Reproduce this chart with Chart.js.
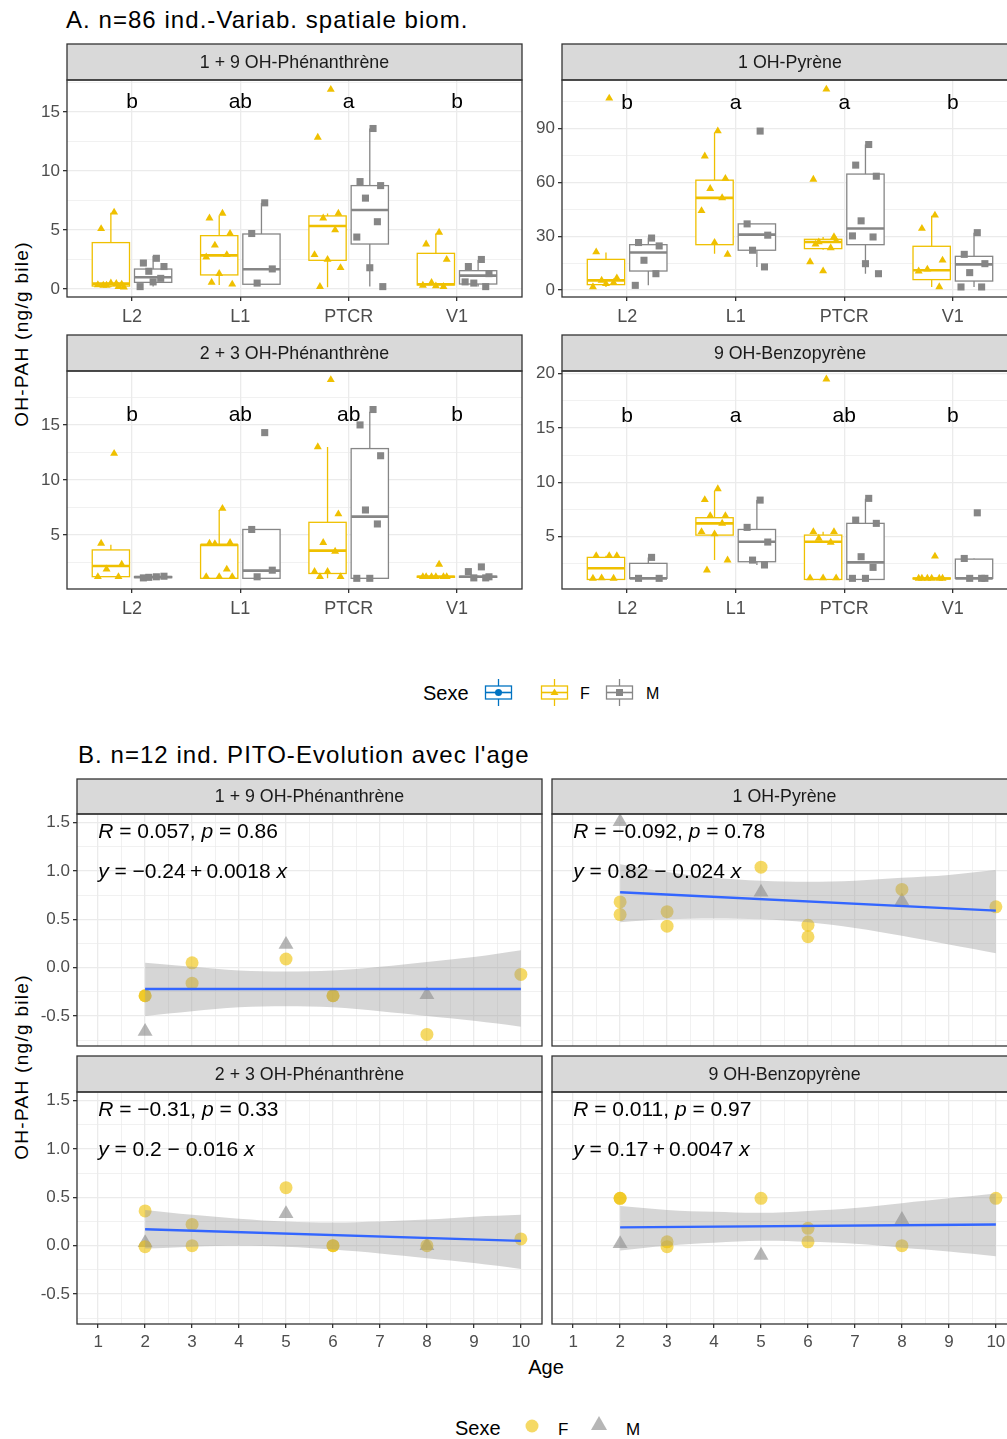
<!DOCTYPE html>
<html lang="fr">
<head>
<meta charset="utf-8">
<title>OH-PAH</title>
<script src="https://cdn.jsdelivr.net/npm/chart.js@4.4.1/dist/chart.umd.min.js"></script>
<style>
  html, body { margin: 0; padding: 0; width: 1007px; height: 1439px; overflow: hidden; background: #fff; }
  body { position: relative; font-family: "Liberation Sans", Arial, sans-serif; color: #000; }
  .t { position: absolute; white-space: nowrap; line-height: 1; }
  .mid { transform: translateY(-50%); }
  .ctr { transform: translate(-50%, -50%); }
  .rot { transform: translate(-50%, -50%) rotate(-90deg); }
  canvas, svg { position: absolute; }
</style>
</head>
<body>

<div class="t mid" style="left:66px;top:20px;font-size:24px;letter-spacing:1.05px">A. n=86 ind.-Variab. spatiale biom.</div>
<div class="t rot" style="left:21px;top:334px;font-size:19px;letter-spacing:1.3px">OH-PAH (ng/g bile)</div>

<div class="t mid" style="left:423px;top:693px;font-size:20px">Sexe</div>
<svg style="left:484px;top:678px" width="30" height="30">
  <g stroke="#0073C2" stroke-width="1.3" fill="none">
    <line x1="14.5" y1="1" x2="14.5" y2="8"/><line x1="14.5" y1="21" x2="14.5" y2="28"/>
    <rect x="1.5" y="8" width="26" height="13" fill="#fff"/><line x1="1.5" y1="14.5" x2="27.5" y2="14.5" stroke-width="1.6"/>
  </g>
  <circle cx="14.5" cy="14.5" r="3.5" fill="#0073C2"/>
</svg>
<svg style="left:540px;top:678px" width="30" height="30">
  <g stroke="#EFC000" stroke-width="1.3" fill="none">
    <line x1="14.5" y1="1" x2="14.5" y2="8"/><line x1="14.5" y1="21" x2="14.5" y2="28"/>
    <rect x="1.5" y="8" width="26" height="13" fill="#fff"/><line x1="1.5" y1="14.5" x2="27.5" y2="14.5" stroke-width="1.6"/>
  </g>
  <polygon points="14.5,10.5 18.5,17 10.5,17" fill="#EFC000"/>
</svg>
<div class="t mid" style="left:580px;top:694px;font-size:16px">F</div>
<svg style="left:605px;top:678px" width="30" height="30">
  <g stroke="#868686" stroke-width="1.3" fill="none">
    <line x1="14.5" y1="1" x2="14.5" y2="8"/><line x1="14.5" y1="21" x2="14.5" y2="28"/>
    <rect x="1.5" y="8" width="26" height="13" fill="#fff"/><line x1="1.5" y1="14.5" x2="27.5" y2="14.5" stroke-width="1.6"/>
  </g>
  <rect x="11" y="11" width="7" height="7" fill="#868686"/>
</svg>
<div class="t mid" style="left:646px;top:694px;font-size:16px">M</div>

<div class="t mid" style="left:78px;top:755px;font-size:24px;letter-spacing:1.05px">B. n=12 ind. PITO-Evolution avec l'age</div>
<div class="t rot" style="left:21px;top:1067px;font-size:19px;letter-spacing:1.3px">OH-PAH (ng/g bile)</div>
<div class="t ctr" style="left:546px;top:1367px;font-size:20px">Age</div>

<div class="t mid" style="left:455px;top:1428px;font-size:20px">Sexe</div>
<svg style="left:522px;top:1416px" width="20" height="20">
  <circle cx="10" cy="10" r="6.5" fill="rgba(239,192,0,0.6)"/>
</svg>
<div class="t mid" style="left:558px;top:1429px;font-size:17px">F</div>
<svg style="left:588px;top:1414px" width="22" height="22">
  <polygon points="11,2 19,16 3,16" fill="rgba(134,134,134,0.6)"/>
</svg>
<div class="t mid" style="left:626px;top:1429px;font-size:17px">M</div>

<script>
'use strict';

// ------------------------------------------------------- //
// Data
// ------------------------------------------------------ //
var sites = ['L2', 'L1', 'PTCR', 'V1'];
var compounds = ['1 + 9 OH-Phénanthrène', '1 OH-Pyrène', '2 + 3 OH-Phénanthrène', '9 OH-Benzopyrène'];
var sigLetters = [['b', 'ab', 'a', 'b'], ['b', 'a', 'a', 'b'], ['b', 'ab', 'ab', 'b'], ['b', 'a', 'ab', 'b']];

// box stats per site: [whisker low, Q1, median, Q3, whisker high]
var phe19BoxF = [[0.15, 0.25, 0.45, 3.93, 6.47], [0.34, 1.19, 2.85, 4.52, 6.2], [0.14, 2.43, 5.34, 6.19, 6.4], [0.2, 0.34, 0.4, 3.02, 4.7]];
var phe19BoxM = [[0.2, 0.56, 0.99, 1.69, 2.8], [0.4, 0.4, 1.67, 4.66, 7.3], [0.2, 3.81, 6.69, 8.76, 13.6], [0.2, 0.42, 1.13, 1.55, 2.46]];
var phe19PtsF = [[6.5, 5.1, 0.4, 0.3, 0.2, 0.35, 0.5, 0.15, 0.3, 0.45], [6.4, 6.0, 4.7, 3.7, 2.9, 2.7, 1.3, 0.4, 0.56], [16.9, 12.85, 6.4, 6.0, 5.0, 2.9, 2.5, 1.8, 0.2], [4.8, 3.8, 2.5, 0.54, 0.2, 0.3, 0.25]];
var phe19PtsM = [[2.6, 2.2, 1.9, 1.5, 0.9, 0.2, 0.6], [7.3, 4.7, 1.7, 0.5], [13.6, 9.1, 8.76, 7.7, 5.7, 4.4, 1.8, 0.2], [2.5, 1.9, 1.3, 0.5, 0.2, 0.6]];

var pyrBoxF = [[1.7, 3.0, 5.4, 17.1, 20.9], [20.3, 25.3, 51.4, 61.3, 87.8], [22.5, 23.1, 26.8, 28.3, 29.6], [1.7, 5.8, 11.0, 24.4, 41.4]];
var pyrBoxM = [[2.6, 10.6, 20.9, 25.3, 29.3], [12.9, 22.2, 30.9, 36.9, 36.9], [9.1, 25.3, 34.3, 64.7, 81.2], [1.7, 5.0, 14.3, 18.8, 32]];
var pyrPtsF = [[107, 21.2, 6.7, 5.4, 4.1, 1.7, 3.5], [88.7, 74.7, 62.2, 56.6, 51.4, 44.2, 26.5, 19.9], [112, 61.7, 29.6, 26.8, 23.5, 15.7, 10.6, 27.5, 25.5], [41.7, 34.3, 16.6, 11.6, 1.7, 10.5]];
var pyrPtsM = [[29, 26.5, 24.6, 16.6, 9.1, 2.6], [88.7, 36.9, 30.6, 22.2, 12.9], [81.2, 69.7, 63.5, 38.6, 29.6, 30.2, 14.7, 9.1], [32, 19.9, 14.7, 9.7, 1.7, 1.7]];

var phe23BoxF = [[1.2, 1.21, 2.18, 3.64, 4.1], [1.06, 1.06, 4.1, 4.1, 7.27], [1.06, 1.5, 3.58, 6.15, 13.0], [1.1, 1.15, 1.2, 1.25, 1.3]];
var phe23BoxM = [[1.1, 1.12, 1.18, 1.22, 1.25], [1.06, 1.06, 1.76, 5.5, 5.5], [1.06, 1.06, 6.67, 12.85, 16.2], [1.1, 1.15, 1.2, 1.25, 1.3]];
var phe23PtsF = [[12.4, 4.24, 2.33, 1.9, 1.2, 1.2], [7.4, 4.24, 4.3, 4.2, 1.88, 1.2, 1.2, 1.2], [19.1, 13.0, 6.9, 4.3, 3.5, 1.67, 1.67, 1.2, 1.2], [2.33, 1.2, 1.2, 1.2, 1.2, 1.2, 1.2]];
var phe23PtsM = [[1.2, 1.1, 1.25, 1.15], [14.3, 5.5, 1.8, 1.2], [16.4, 15.0, 12.2, 7.27, 6.0, 1.06, 1.06], [2.1, 1.67, 1.2, 1.1, 1.1]];

var bapBoxF = [[1.07, 1.07, 2.1, 3.1, 3.25], [2.85, 5.15, 6.23, 6.75, 9.2], [1.07, 1.07, 4.54, 5.15, 5.46], [1.1, 1.12, 1.15, 1.2, 1.25]];
var bapBoxM = [[1.17, 1.17, 1.17, 2.55, 3.1], [2.4, 2.7, 4.54, 5.67, 8.37], [1.07, 1.07, 2.64, 6.23, 8.5], [1.17, 1.17, 1.17, 2.94, 3.0]];
var bapPtsF = [[3.25, 3.25, 3.25, 1.2, 1.17, 1.17], [9.4, 8.4, 6.93, 6.93, 6.23, 5.46, 5.25, 2.85, 1.93], [19.5, 5.46, 5.46, 4.85, 4.48, 1.2, 1.2, 1.2], [3.2, 1.17, 1.17, 1.17, 1.17, 1.17, 1.17]];
var bapPtsM = [[3.1, 1.17, 1.17], [8.37, 5.86, 4.51, 2.85, 2.4], [8.53, 6.53, 6.23, 3.16, 2.18, 1.17, 1.17], [7.2, 3.0, 1.17, 1.17, 1.17]];

// part B: individuals followed with age
var agesF = [2, 2, 3, 3, 5, 6, 6, 8, 10];
var agesM = [2, 5, 8];
var phe19AgeF = [-0.29, -0.29, 0.05, -0.16, 0.09, -0.29, -0.29, -0.69, -0.07];
var phe19AgeM = [-0.66, 0.24, -0.28];
var pyrAgeF = [0.68, 0.55, 0.58, 0.43, 1.04, 0.44, 0.32, 0.81, 0.63];
var pyrAgeM = [1.51, 0.78, 0.69];
var phe23AgeF = [0.36, -0.01, 0.22, 0.0, 0.6, 0.0, 0.0, 0.0, 0.07];
var phe23AgeM = [0.03, 0.33, 0.0];
var bapAgeF = [0.49, 0.49, 0.04, -0.01, 0.49, 0.18, 0.04, 0.0, 0.49];
var bapAgeM = [0.02, -0.10, 0.27];

var fitAges = [2, 10];
var phe19Fit = [-0.22, -0.22];
var pyrFit = [0.78, 0.59];
var phe23Fit = [0.17, 0.05];
var bapFit = [0.19, 0.22];

var bandAges = [2, 3, 4, 5, 6, 7, 8, 9, 10];
var phe19Up = [0.05, 0.01, -0.03, -0.04, -0.03, 0.01, 0.06, 0.11, 0.18];
var phe19Lo = [-0.50, -0.45, -0.41, -0.40, -0.41, -0.45, -0.50, -0.55, -0.61];
var pyrUp = [1.07, 0.99, 0.93, 0.90, 0.89, 0.90, 0.93, 0.96, 1.01];
var pyrLo = [0.47, 0.50, 0.51, 0.50, 0.47, 0.41, 0.33, 0.24, 0.15];
var phe23Up = [0.37, 0.32, 0.28, 0.25, 0.24, 0.25, 0.27, 0.30, 0.32];
var phe23Lo = [-0.03, -0.01, 0.00, -0.01, -0.04, -0.08, -0.13, -0.18, -0.24];
var bapUp = [0.41, 0.37, 0.35, 0.34, 0.36, 0.39, 0.44, 0.49, 0.54];
var bapLo = [-0.05, 0.00, 0.03, 0.05, 0.04, 0.02, -0.02, -0.06, -0.11];

var corR = ['0.057', '\u22120.092', '\u22120.31', '0.011'];
var corP = ['0.86', '0.78', '0.33', '0.97'];
var fitEq = ['\u22120.24\u2009+\u20090.0018', '0.82 \u2212 0.024', '0.2 \u2212 0.016', '0.17\u2009+\u20090.0047'];

// ------------------------------------------------------- //
// Styles
// ------------------------------------------------------ //
var FONT = '"Liberation Sans", Arial, sans-serif';
var colF = '#EFC000';
var colM = '#868686';
var DODGE = 0.195;
var BOX_HALF = 0.172;
var jit = [0.03, -0.09, 0.1, -0.04, 0.07, -0.12, 0.0, 0.12, -0.07, 0.05, -0.02];

Chart.defaults.font.family = FONT;

function mount(g) {
    var c = document.createElement('canvas');
    var W = g.yW + g.w + 2, H = 2 + g.sH + g.h + g.xH;
    c.width = W;
    c.height = H;
    c.style.left = (g.left - g.yW) + 'px';
    c.style.top = (g.top - g.sH - 2) + 'px';
    c.style.width = W + 'px';
    c.style.height = H + 'px';
    document.body.appendChild(c);
    return c;
}

function noPad(s) {
    s.paddingTop = 0; s.paddingBottom = 0; s.paddingLeft = 0; s.paddingRight = 0;
}

function valueScale(min, max, major, minor, show, yW, fmt) {
    var all = major.concat(minor).filter(function (v) { return v >= min && v <= max; });
    var isMajor = function (c) { return c.tick && major.indexOf(c.tick.value) >= 0; };
    return {
        type: 'linear', min: min, max: max,
        afterBuildTicks: function (s) { s.ticks = all.map(function (v) { return { value: v }; }); },
        afterFit: function (s) { s.width = yW; noPad(s); },
        ticks: {
            display: show, autoSkip: false, color: '#4D4D4D', font: { size: 17 }, padding: 3,
            callback: function (v) { return major.indexOf(v) >= 0 ? fmt(v) : ''; }
        },
        grid: {
            color: '#EBEBEB', lineWidth: function (c) { return isMajor(c) ? 1.3 : 0.7; },
            drawTicks: show, tickLength: 4,
            tickColor: function (c) { return isMajor(c) ? '#333333' : 'rgba(0,0,0,0)'; }
        },
        border: { display: false }
    };
}

function siteScale(xH) {
    return {
        type: 'linear', min: 0.4, max: 4.6,
        afterBuildTicks: function (s) { s.ticks = sites.map(function (_, i) { return { value: i + 1 }; }); },
        afterFit: function (s) { s.height = xH; noPad(s); },
        ticks: {
            autoSkip: false, maxRotation: 0, minRotation: 0, color: '#4D4D4D', font: { size: 18 }, padding: 5,
            callback: function (v) { return sites[v - 1]; }
        },
        grid: { color: '#EBEBEB', lineWidth: 1.3, tickLength: 4, tickColor: '#333333' },
        border: { display: false }
    };
}

function ageScale(show, xH) {
    var major = [1, 2, 3, 4, 5, 6, 7, 8, 9, 10];
    var minor = [1.5, 2.5, 3.5, 4.5, 5.5, 6.5, 7.5, 8.5, 9.5];
    var isMajor = function (c) { return c.tick && major.indexOf(c.tick.value) >= 0; };
    return {
        type: 'linear', min: 0.55, max: 10.45,
        afterBuildTicks: function (s) { s.ticks = major.concat(minor).map(function (v) { return { value: v }; }); },
        afterFit: function (s) { s.height = xH; noPad(s); },
        ticks: {
            display: show, autoSkip: false, maxRotation: 0, minRotation: 0, color: '#4D4D4D', font: { size: 17 }, padding: 4,
            callback: function (v) { return major.indexOf(v) >= 0 ? String(v) : ''; }
        },
        grid: {
            color: '#EBEBEB', lineWidth: function (c) { return isMajor(c) ? 1.3 : 0.7; },
            drawTicks: show, tickLength: 4,
            tickColor: function (c) { return isMajor(c) ? '#333333' : 'rgba(0,0,0,0)'; }
        },
        border: { display: false }
    };
}

// strip header + panel frame
function stripPlugin(text, sH) {
    return {
        id: 'strip',
        afterDraw: function (chart) {
            var ctx = chart.ctx, a = chart.chartArea, w = a.right - a.left;
            ctx.save();
            ctx.fillStyle = '#D9D9D9';
            ctx.fillRect(a.left, a.top - sH, w, sH);
            ctx.strokeStyle = '#333333';
            ctx.lineWidth = 1.3;
            ctx.strokeRect(a.left, a.top - sH, w, sH);
            ctx.strokeRect(a.left, a.top, w, a.bottom - a.top);
            ctx.fillStyle = '#1A1A1A';
            ctx.font = '17.8px ' + FONT;
            ctx.textAlign = 'center';
            ctx.textBaseline = 'middle';
            ctx.fillText(text, a.left + w / 2, a.top - sH / 2 + 1);
            ctx.restore();
        }
    };
}

// box + whiskers + median, drawn under the jittered points
function boxPlugin(groups) {
    return {
        id: 'boxes',
        beforeDatasetsDraw: function (chart) {
            var ctx = chart.ctx, xs = chart.scales.x, ys = chart.scales.y;
            ctx.save();
            groups.forEach(function (g) {
                g.stats.forEach(function (s, i) {
                    var c = i + 1 + g.dx;
                    var x0 = xs.getPixelForValue(c - BOX_HALF), x1 = xs.getPixelForValue(c + BOX_HALF);
                    var xc = xs.getPixelForValue(c);
                    var p = s.map(function (v) { return ys.getPixelForValue(v); });
                    ctx.strokeStyle = g.color;
                    ctx.lineWidth = 1.3;
                    ctx.beginPath();
                    ctx.moveTo(xc, p[3]); ctx.lineTo(xc, p[4]);
                    ctx.moveTo(xc, p[1]); ctx.lineTo(xc, p[0]);
                    ctx.stroke();
                    ctx.fillStyle = '#fff';
                    ctx.fillRect(x0, p[3], x1 - x0, p[1] - p[3]);
                    ctx.strokeRect(x0, p[3], x1 - x0, p[1] - p[3]);
                    ctx.lineWidth = 2.6;
                    ctx.beginPath();
                    ctx.moveTo(x0, p[2]); ctx.lineTo(x1, p[2]);
                    ctx.stroke();
                });
            });
            ctx.restore();
        }
    };
}

function letterPlugin(letters, yv) {
    return {
        id: 'letters',
        afterDatasetsDraw: function (chart) {
            var ctx = chart.ctx, xs = chart.scales.x, ys = chart.scales.y;
            ctx.save();
            ctx.fillStyle = '#000';
            ctx.font = '21px ' + FONT;
            ctx.textAlign = 'center';
            ctx.textBaseline = 'middle';
            letters.forEach(function (l, i) {
                ctx.fillText(l, xs.getPixelForValue(i + 1), ys.getPixelForValue(yv));
            });
            ctx.restore();
        }
    };
}

function mathText(ctx, x, y, parts) {
    parts.forEach(function (p) {
        ctx.font = (p[1] ? 'italic ' : '') + '21px ' + FONT;
        ctx.fillText(p[0], x, y);
        x += ctx.measureText(p[0]).width;
    });
}

function statPlugin(r, p, eq) {
    return {
        id: 'stats',
        afterDatasetsDraw: function (chart) {
            var ctx = chart.ctx, xs = chart.scales.x, ys = chart.scales.y;
            var x = xs.getPixelForValue(1);
            ctx.save();
            ctx.fillStyle = '#000';
            ctx.textAlign = 'left';
            ctx.textBaseline = 'middle';
            mathText(ctx, x, ys.getPixelForValue(1.40), [['R', 1], [' = ' + r + ', ', 0], ['p', 1], [' = ' + p, 0]]);
            mathText(ctx, x, ys.getPixelForValue(0.99), [['y', 1], [' = ' + eq + ' ', 0], ['x', 1]]);
            ctx.restore();
        }
    };
}

function jitterPoints(groups, dx) {
    var pts = [];
    groups.forEach(function (vals, i) {
        vals.forEach(function (v, j) { pts.push({ x: i + 1 + dx + jit[j % jit.length], y: v }); });
    });
    return pts;
}

function pairs(xs, ys) {
    return xs.map(function (x, i) { return { x: x, y: ys[i] }; });
}

var baseOptions = function (g) {
    return {
        responsive: false, devicePixelRatio: 1, animation: false, events: [],
        layout: { autoPadding: false, padding: { top: g.sH + 2, right: 2, left: 0, bottom: 0 } },
        plugins: { legend: { display: false }, tooltip: { enabled: false } }
    };
};

// ------------------------------------------------------- //
// Part A: box plots per site
// ------------------------------------------------------ //
function boxPanel(g) {
    var opts = baseOptions(g);
    opts.scales = {
        x: siteScale(g.xH),
        y: valueScale(g.yMin, g.yMax, g.major, g.minor, true, g.yW, function (v) { return String(v); })
    };
    new Chart(mount(g), {
        type: 'scatter',
        data: {
            datasets: [
                { data: jitterPoints(g.ptsF, -DODGE), pointStyle: 'triangle', pointRadius: 4.6,
                  pointBackgroundColor: colF, pointBorderWidth: 0, order: 2 },
                { data: jitterPoints(g.ptsM, DODGE), pointStyle: 'rect', pointRadius: 5,
                  pointBackgroundColor: colM, pointBorderWidth: 0, order: 1 }
            ]
        },
        options: opts,
        plugins: [
            boxPlugin([{ stats: g.boxF, dx: -DODGE, color: colF }, { stats: g.boxM, dx: DODGE, color: colM }]),
            letterPlugin(g.letters, g.letterY),
            stripPlugin(g.title, g.sH)
        ]
    });
}

boxPanel({ left: 67, top: 80, w: 455, h: 217, sH: 36, yW: 50, xH: 30, title: compounds[0],
    yMin: -0.68, yMax: 17.71, major: [0, 5, 10, 15], minor: [2.5, 7.5, 12.5, 17.5],
    boxF: phe19BoxF, boxM: phe19BoxM, ptsF: phe19PtsF, ptsM: phe19PtsM, letters: sigLetters[0], letterY: 15.8 });
boxPanel({ left: 562, top: 80, w: 456, h: 217, sH: 36, yW: 36, xH: 30, title: compounds[1],
    yMin: -3.9, yMax: 117.2, major: [0, 30, 60, 90], minor: [15, 45, 75, 105],
    boxF: pyrBoxF, boxM: pyrBoxM, ptsF: pyrPtsF, ptsM: pyrPtsM, letters: sigLetters[1], letterY: 104.5 });
boxPanel({ left: 67, top: 371, w: 455, h: 218, sH: 36, yW: 50, xH: 30, title: compounds[2],
    yMin: 0.09, yMax: 19.9, major: [5, 10, 15], minor: [2.5, 7.5, 12.5, 17.5],
    boxF: phe23BoxF, boxM: phe23BoxM, ptsF: phe23PtsF, ptsM: phe23PtsM, letters: sigLetters[2], letterY: 15.85 });
boxPanel({ left: 562, top: 371, w: 456, h: 218, sH: 36, yW: 36, xH: 30, title: compounds[3],
    yMin: 0.19, yMax: 20.25, major: [5, 10, 15, 20], minor: [2.5, 7.5, 12.5, 17.5],
    boxF: bapBoxF, boxM: bapBoxM, ptsF: bapPtsF, ptsM: bapPtsM, letters: sigLetters[3], letterY: 16.1 });

// ------------------------------------------------------- //
// Part B: evolution with age
// ------------------------------------------------------ //
function agePanel(g) {
    var opts = baseOptions(g);
    opts.scales = {
        x: ageScale(g.showX, g.xH),
        y: valueScale(-0.81, 1.59, [-0.5, 0, 0.5, 1, 1.5], [-0.75, -0.25, 0.25, 0.75, 1.25], g.showY, g.yW,
            function (v) { return v.toFixed(1); })
    };
    new Chart(mount(g), {
        type: 'scatter',
        data: {
            datasets: [
                { type: 'line', data: pairs(bandAges, g.up), borderWidth: 0, borderColor: 'rgba(0,0,0,0)',
                  pointRadius: 0, tension: 0.35, fill: '+1', backgroundColor: 'rgba(153,153,153,0.4)', order: 2 },
                { type: 'line', data: pairs(bandAges, g.lo), borderWidth: 0, borderColor: 'rgba(0,0,0,0)',
                  pointRadius: 0, tension: 0.35, fill: false, order: 2 },
                { type: 'line', data: pairs(fitAges, g.fit), borderColor: '#3366FF', borderWidth: 2.4,
                  pointRadius: 0, fill: false, order: 1 },
                { data: pairs(agesF, g.valsF), pointStyle: 'circle', pointRadius: 6.5,
                  pointBackgroundColor: 'rgba(239,192,0,0.6)', pointBorderWidth: 0, order: 3 },
                { data: pairs(agesM, g.valsM), pointStyle: 'triangle', pointRadius: 8.6,
                  pointBackgroundColor: 'rgba(134,134,134,0.6)', pointBorderWidth: 0, order: 4 }
            ]
        },
        options: opts,
        plugins: [statPlugin(g.r, g.p, g.eq), stripPlugin(g.title, g.sH)]
    });
}

agePanel({ left: 77, top: 814, w: 465, h: 232, sH: 35, yW: 50, xH: 2, showX: false, showY: true, title: compounds[0],
    valsF: phe19AgeF, valsM: phe19AgeM, fit: phe19Fit, up: phe19Up, lo: phe19Lo, r: corR[0], p: corP[0], eq: fitEq[0] });
agePanel({ left: 552, top: 814, w: 465, h: 232, sH: 35, yW: 2, xH: 2, showX: false, showY: false, title: compounds[1],
    valsF: pyrAgeF, valsM: pyrAgeM, fit: pyrFit, up: pyrUp, lo: pyrLo, r: corR[1], p: corP[1], eq: fitEq[1] });
agePanel({ left: 77, top: 1092, w: 465, h: 232, sH: 36, yW: 50, xH: 30, showX: true, showY: true, title: compounds[2],
    valsF: phe23AgeF, valsM: phe23AgeM, fit: phe23Fit, up: phe23Up, lo: phe23Lo, r: corR[2], p: corP[2], eq: fitEq[2] });
agePanel({ left: 552, top: 1092, w: 465, h: 232, sH: 36, yW: 2, xH: 30, showX: true, showY: false, title: compounds[3],
    valsF: bapAgeF, valsM: bapAgeM, fit: bapFit, up: bapUp, lo: bapLo, r: corR[3], p: corP[3], eq: fitEq[3] });
</script>
</body>
</html>
